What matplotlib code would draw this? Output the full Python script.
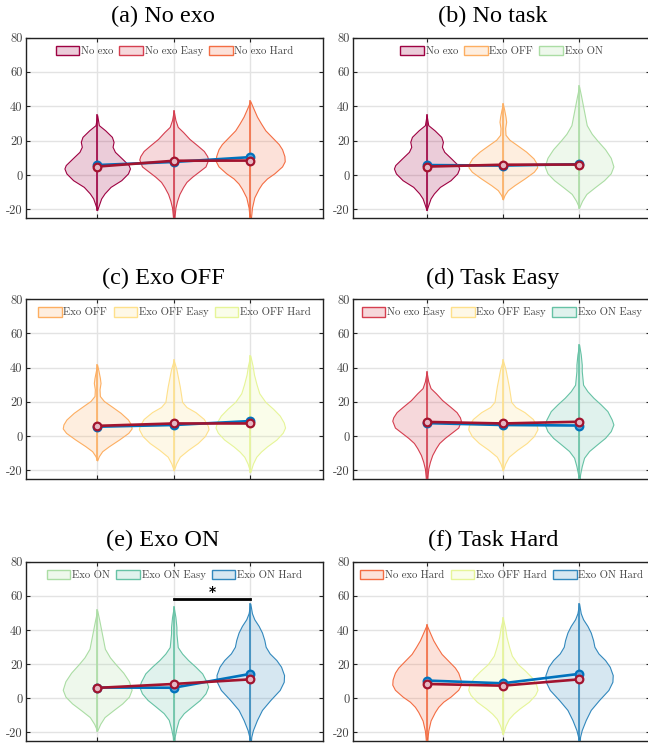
import matplotlib.pyplot as plt
from matplotlib.patches import Patch
from matplotlib.colors import to_rgba

plt.rcParams['axes.unicode_minus'] = False

conditions = ['No exo', 'No exo Easy', 'No exo Hard',
              'Exo OFF', 'Exo OFF Easy', 'Exo OFF Hard',
              'Exo ON', 'Exo ON Easy', 'Exo ON Hard']
colors = ['#9E0142', '#D53E4F', '#F46D43', '#FDAE61', '#FEE08B',
          '#E6F598', '#ABDDA4', '#66C2A5', '#3288BD']
means = [5.8, 7.6, 10.4, 5.5, 6.5, 8.8, 6.3, 6.2, 14.3]
medians = [4.9, 8.3, 8.4, 6.0, 7.4, 7.4, 6.1, 8.4, 11.1]

# violin outlines: value levels and relative half widths
no_exo_y = [34.8, 29, 26, 22.2, 19.3, 16.4, 13.5, 9.6, 5.8, 3.8, 0.9, -3.0, -6.9, -10.7, -13.6, -17.5, -20.4]
no_exo_w = [0, 5, 24, 44, 49, 46, 53, 74, 94, 98, 92, 72, 40, 22, 12, 5, 0]
no_exo_easy_y = [37.3, 32, 28, 25, 21, 17, 14, 11, 9, 5, 2, -1, -4, -7, -11, -15, -19, -25]
no_exo_easy_w = [0, 5, 12, 28, 47, 72, 90, 100, 103, 95, 75, 55, 38, 28, 17, 10, 5, 2]
no_exo_hard_y = [43, 38, 34, 30, 26, 22, 18, 15, 11, 8, 5, 1, -2, -5, -8, -13, -19, -25]
no_exo_hard_w = [0, 11, 20, 32, 45, 65, 85, 95, 102, 103, 95, 72, 50, 35, 25, 12, 5, 2]
exo_off_y = [41.5, 38, 34, 31, 27.3, 23.4, 20.5, 17.5, 13.6, 9.7, 6.8, 4.5, 1.9, -1.9, -5.9, -8.8, -11.7, -14.2]
exo_off_w = [0, 4, 8, 10, 7, 8, 20, 42, 70, 92, 101, 103, 93, 66, 35, 15, 5, 0]
exo_off_easy_y = [44.3, 39, 34, 29, 24, 20, 17, 14, 10, 6, 4, 0, -4, -8, -12, -16, -20]
exo_off_easy_w = [0, 8, 13, 18, 22, 25, 38, 65, 90, 102, 104, 93, 72, 43, 18, 7, 0]
exo_off_hard_y = [47, 41, 36, 30, 25, 20, 16, 12, 8, 5, 2, -2, -6, -9, -12, -16, -21]
exo_off_hard_w = [0, 7, 11, 19, 27, 45, 68, 88, 100, 104, 97, 78, 50, 32, 18, 8, 0]
exo_on_y = [51.5, 46, 40, 34, 29, 24, 20, 15, 10, 5, 1, -3, -7, -11, -15, -19]
exo_on_w = [0, 6, 12, 18, 23, 38, 55, 78, 95, 103, 95, 75, 48, 22, 9, 0]
exo_on_easy_y = [53.4, 47.6, 41.7, 38, 34, 30, 26.2, 22.4, 18.5, 14.6, 9.7, 6.8, 2.9, -1, -4.8, -8.7, -12.6, -17.5, -22.3, -25]
exo_on_easy_w = [0, 5, 8, 8, 10, 12, 25, 43, 65, 85, 98, 103, 95, 78, 54, 30, 15, 8, 3, 2]
exo_on_hard_y = [55.5, 49.8, 46.3, 42.4, 38.5, 34.1, 30.2, 26.3, 22.4, 18.5, 13.6, 9.7, 4.9, -1, -6.8, -12.7, -18.6, -22.5, -25]
exo_on_hard_w = [0, 5, 12, 25, 35, 42, 46, 58, 78, 92, 101, 100, 88, 60, 35, 20, 8, 3, 2]

profiles_y = [no_exo_y, no_exo_easy_y, no_exo_hard_y, exo_off_y, exo_off_easy_y,
              exo_off_hard_y, exo_on_y, exo_on_easy_y, exo_on_hard_y]
profiles_w = [no_exo_w, no_exo_easy_w, no_exo_hard_w, exo_off_w, exo_off_easy_w,
              exo_off_hard_w, exo_on_w, exo_on_easy_w, exo_on_hard_w]

panel_titles = ['(a) No exo', '(b) No task', '(c) Exo OFF',
                '(d) Task Easy', '(e) Exo ON', '(f) Task Hard']
panel_groups = [[0, 1, 2], [0, 3, 6], [3, 4, 5], [1, 4, 7], [6, 7, 8], [2, 5, 8]]

mean_col = '#0072BD'
median_col = '#A2142F'
tick_font = 'cmr10'

fig = plt.figure(figsize=(6.48, 7.46), dpi=100)

W, H = 648, 746
col_left = [26, 353]
col_xlim = [(0.07, 3.95), (0.035, 3.93)]
title_x = [163, 493]
row_top = [37.5, 299, 561.7]
row_bot = [218, 479, 741]
title_y = [16, 278, 540]

for p in range(6):
    r, c = p // 2, p % 2
    ax = fig.add_axes([col_left[c] / W, 1 - row_bot[r] / H, 297 / W,
                       (row_bot[r] - row_top[r]) / H])
    grp = panel_groups[p]
    handles = []
    for k, idx in enumerate(grp):
        x = k + 1
        col = colors[idx]
        ys = profiles_y[idx]
        ws = [w / 103 * 0.45 for w in profiles_w[idx]]
        ax.fill_betweenx(ys, [x - w for w in ws], [x + w for w in ws],
                         facecolor=to_rgba(col, 0.2), edgecolor=col, lw=0.8, zorder=2)
        ax.plot([x, x], [min(ys), max(ys)], color=col, lw=1.2, zorder=3)
        handles.append(Patch(facecolor=to_rgba(col, 0.2), edgecolor=col, lw=1))
    xs = [1, 2, 3]
    ax.plot(xs, [means[i] for i in grp], color=mean_col, lw=1.9, marker='o', ms=5.5,
            mfc='#5aa0d8', mec=mean_col, mew=1.6, zorder=4)
    ax.plot(xs, [medians[i] for i in grp], color=median_col, lw=1.9, marker='o', ms=5.5,
            mfc='#e6b8c4', mec=median_col, mew=1.6, zorder=5)

    if p == 4:
        ax.plot([2, 3], [58.2, 58.2], color='black', lw=2, zorder=5)
        ax.text(2.5, 62.0, '*', ha='center', va='center', fontsize=10,
                fontweight='bold', family='DejaVu Sans', color='black')

    ax.set_xlim(*col_xlim[c])
    ax.set_ylim(-25, 80)
    ax.set_xticks(xs)
    ax.set_xticklabels([])
    ax.set_yticks([-20, 0, 20, 40, 60, 80])
    ax.set_yticklabels(['-20', '0', '20', '40', '60', '80'], family=tick_font,
                       fontsize=9, color='#444444')
    ax.tick_params(direction='in', length=3, width=0.8, top=True, right=True,
                   pad=2.5, colors='#222222', labelcolor='#444444')
    ax.grid(True, color='#e3e3e3', lw=1)
    ax.set_axisbelow(True)
    for s in ax.spines.values():
        s.set_color('#222222')
        s.set_linewidth(1)
    leg = ax.legend(handles, [conditions[i] for i in grp], loc='upper center', ncol=3,
                    frameon=False, handlelength=2.2, handleheight=1.0,
                    handletextpad=0.15, columnspacing=0.6, borderaxespad=0.35,
                    prop={'family': tick_font, 'size': 7.7})
    for t in leg.get_texts():
        t.set_color('#444444')

    fig.text(title_x[c] / W, 1 - title_y[r] / H, panel_titles[p], ha='center',
             va='center', family='Liberation Serif', fontsize=17.5)

fig.savefig('out.png', dpi=100)
